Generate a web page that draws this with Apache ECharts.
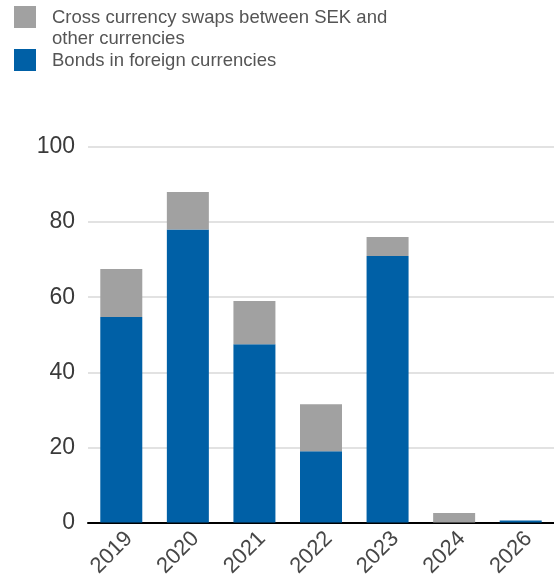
<!DOCTYPE html>
<html>
<head>
<meta charset="utf-8">
<script src="https://cdn.jsdelivr.net/npm/echarts@6/dist/echarts.min.js"></script>
<style>
  html, body { margin: 0; padding: 0; background: #fff; }
  #chart { width: 554px; height: 577px; }
</style>
</head>
<body>
<div id="chart"></div>
<script>
// Years on the category axis
const years = ['2019', '2020', '2021', '2022', '2023', '2024', '2026'];
// Bonds in foreign currencies (bottom of each stack)
const bonds = [54.7, 78, 47.5, 19, 71, 0, 0.5];
// Cross currency swaps between SEK and other currencies (top of each stack)
const swaps = [12.8, 10, 11.5, 12.5, 5, 2.5, 0];
// Value axis ticks
const yTicks = [0, 20, 40, 60, 80, 100];

const swapName = 'Cross currency swaps between SEK and other currencies';
const bondName = 'Bonds in foreign currencies';

const FONT = '"Liberation Sans", Arial, sans-serif';
const BLUE = '#0060a6';
const GREY = '#a1a1a1';

const chart = echarts.init(document.getElementById('chart'), null, { renderer: 'canvas' });

// Legend text: rich token with extra left padding to widen the gap after the swatch
const legendRich = {
  t: {
    fontFamily: FONT,
    fontSize: 18.5,
    color: '#555555',
    lineHeight: 21,
    padding: [2, 0, 0, 11]
  }
};

chart.setOption({
  animation: false,
  backgroundColor: '#fff',
  legend: [
    {
      // blank first line keeps the swatch level with the first text line
      left: 14, top: -14.5,
      padding: 0,
      orient: 'vertical',
      itemWidth: 22, itemHeight: 22,
      icon: 'rect',
      data: [swapName],
      formatter: () => '{t| }\n{t|Cross currency swaps between SEK and}\n{t|other currencies}',
      textStyle: { rich: legendRich },
      selectedMode: false
    },
    {
      left: 14, top: 49,
      padding: 0,
      orient: 'vertical',
      itemWidth: 22, itemHeight: 22,
      icon: 'rect',
      data: [bondName],
      formatter: (name) => '{t|' + name + '}',
      textStyle: { rich: legendRich },
      selectedMode: false
    }
  ],
  grid: {
    left: 88, right: 0, top: 147, bottom: 54.5,
    containLabel: false,
    outerBoundsMode: 'none'
  },
  xAxis: {
    type: 'category',
    data: years,
    axisLine: { show: true, lineStyle: { color: '#000', width: 2 } },
    axisTick: { show: false },
    axisLabel: {
      rotate: 45,
      margin: 5,
      verticalAlign: 'top',
      fontFamily: FONT,
      fontSize: 22,
      color: '#474747'
    }
  },
  yAxis: {
    type: 'value',
    min: yTicks[0],
    max: yTicks[yTicks.length - 1],
    interval: 20,
    axisLine: { show: false },
    axisTick: { show: false },
    splitLine: { lineStyle: { color: '#d9d9d9', width: 1.5 } },
    axisLabel: {
      margin: 13,
      fontFamily: FONT,
      fontSize: 23,
      color: '#3a3a3a'
    }
  },
  series: [
    {
      name: bondName,
      type: 'bar',
      stack: 'total',
      data: bonds,
      barWidth: 42,
      itemStyle: { color: BLUE }
    },
    {
      name: swapName,
      type: 'bar',
      stack: 'total',
      data: swaps,
      barWidth: 42,
      itemStyle: { color: GREY }
    }
  ]
});
</script>
</body>
</html>
